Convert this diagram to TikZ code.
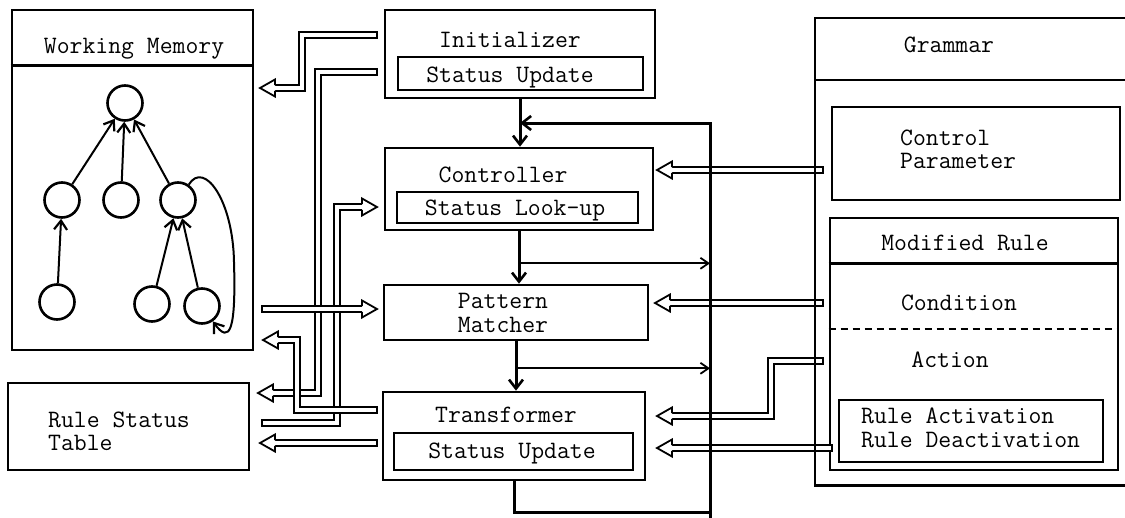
\documentclass[tikz,border=0pt]{standalone}
\usepackage{fontspec}
\usetikzlibrary{arrows.meta,fit,calc}
\newcommand\twfont{\ttfamily\addfontfeatures{FakeBold=0.6}\fontsize{25}{28}\selectfont}
% hollow (outlined) arrow head: #1 tip coordinate, #2 = 1 (points right) or -1 (points left)
\newcommand\hlhead[2]{%
  \begin{scope}[shift={#1},xscale=#2]
    \fill[white] (-15,-8.5) -- (0,0) -- (-15,8.5) -- cycle;
    \draw[line width=1.8pt,line join=miter] (-15,-2.9) -- (-15,-8.5) -- (0,0) -- (-15,8.5) -- (-15,2.9);
  \end{scope}}
% closed end of a horizontal hollow shaft
\newcommand\hlcap[1]{\draw[line width=2pt] ($#1+(0,-3.8)$) -- ($#1+(0,3.8)$);}
\begin{document}
\begin{tikzpicture}[x=1pt,y=-1pt,
  box/.style={draw,line width=2.6pt,inner sep=0pt},
  boxline/.style={line width=2.6pt},
  lbl/.style={font=\twfont,inner sep=0pt,anchor=base},
  lblw/.style={font=\twfont,inner sep=0pt,anchor=base west},
  circ/.style={circle,draw,line width=2.6pt,minimum size=35pt,inner sep=0pt},
  tarrow/.style={line width=2pt,-{Straight Barb[length=9pt,width=13pt,line width=2.2pt]}},
  flow/.style={line width=3pt,-{Straight Barb[length=9pt,width=14pt,line width=2.6pt]}},
  flowline/.style={line width=3pt},
  branch/.style={line width=1.8pt,-{Straight Barb[length=8pt,width=11pt,line width=1.8pt]}},
  hollow/.style={draw=black,double=white,double distance=4pt,line width=1.8pt,line join=miter},
]
\fill[white] (0,0) rectangle (1125,517);
\useasboundingbox (0,0) rectangle (1125,517);

% ---------- nodes (boxes) ----------
\node[box,fit={(12,10)(253,350)}] (wm) {};
\node[box,fit={(8,383)(249,470)}] (rst) {};
\node[box,fit={(385,10)(655,98)}] (init) {};
\node[box,fit={(398,57)(643,90)}] (initsu) {};
\node[box,fit={(385,148)(653,230)}] (ctrl) {};
\node[box,fit={(397,192)(638,223)}] (ctrlsl) {};
\node[box,fit={(384,285)(648,340)}] (pm) {};
\node[box,fit={(383,392)(645,480)}] (trans) {};
\node[box,fit={(394,433)(633,470)}] (transsu) {};
\node[box,fit={(832,107)(1120,200)}] (cp) {};
\node[box,fit={(830,218)(1118,470)}] (mr) {};
\node[box,fit={(839,400)(1103,462)}] (ra) {};
\node[inner sep=0pt,fit={(815,18)(1125,485)}] (gram) {};

% ---------- hollow arrows, left side ----------
% Initializer -> Working Memory
\coordinate (a1s) at (377,35); \coordinate (a1t) at (260,88);
\draw[hollow] (a1s) -- (302,35) -- (302,88) -- ($(a1t)+(15,0)$);
\hlcap{(a1s)} \hlhead{(a1t)}{-1}
% Initializer -> Rule Status Table
\coordinate (a2s) at (377,72); \coordinate (a2t) at (258,393);
\draw[hollow] (a2s) -- (318,72) -- (318,393) -- ($(a2t)+(15,0)$);
\hlcap{(a2s)} \hlhead{(a2t)}{-1}
% Rule Status Table -> Controller
\coordinate (a3s) at (262,423); \coordinate (a3t) at (377,207);
\draw[hollow] (a3s) -- (337,423) -- (337,207) -- ($(a3t)+(-15,0)$);
\hlcap{(a3s)} \hlhead{(a3t)}{1}
% Working Memory -> Pattern Matcher
\coordinate (a4s) at (262,309); \coordinate (a4t) at (377,309);
\draw[hollow] (a4s) -- ($(a4t)+(-15,0)$);
\hlcap{(a4s)} \hlhead{(a4t)}{1}
% Transformer -> Rule Status Table
\coordinate (a5s) at (377,443); \coordinate (a5t) at (260,443);
\draw[hollow] (a5s) -- ($(a5t)+(15,0)$);
\hlcap{(a5s)} \hlhead{(a5t)}{-1}
% Transformer -> Working Memory
\coordinate (a6s) at (377,410); \coordinate (a6t) at (263,340);
\draw[hollow] (a6s) -- (297,410) -- (297,340) -- ($(a6t)+(15,0)$);
\hlcap{(a6s)} \hlhead{(a6t)}{-1}

% ---------- hollow arrows, right side ----------
\coordinate (b1s) at (823,170); \coordinate (b1t) at (657,170);
\draw[hollow] (b1s) -- ($(b1t)+(15,0)$);
\hlcap{(b1s)} \hlhead{(b1t)}{-1}
\coordinate (b2s) at (823,303); \coordinate (b2t) at (655,303);
\draw[hollow] (b2s) -- ($(b2t)+(15,0)$);
\hlcap{(b2s)} \hlhead{(b2t)}{-1}
\coordinate (b3s) at (823,361); \coordinate (b3t) at (657,416);
\draw[hollow] (b3s) -- (771,361) -- (771,416) -- ($(b3t)+(15,0)$);
\hlcap{(b3s)} \hlhead{(b3t)}{-1}
\coordinate (b4s) at (832,448); \coordinate (b4t) at (657,448);
\draw[hollow] (b4s) -- ($(b4t)+(15,0)$);
\hlcap{(b4s)} \hlhead{(b4t)}{-1}

% ---------- box decorations ----------
\draw[boxline] ($(wm.north west)+(0,57)$) -- ($(wm.north east)+(0,57)$);
\draw[boxline] (gram.north east) -- (gram.north west) -- (gram.south west) -- (gram.south east);
\draw[boxline] ($(gram.north west)+(0,62)$) -- ($(gram.north east)+(0,62)$);
\draw[boxline] ($(mr.north west)+(0,47)$) -- ($(mr.north east)+(0,47)$);
\draw[line width=2pt,dash pattern=on 7pt off 5pt] ($(mr.north west)+(0,112)$) -- ($(mr.north east)+(0,112)$);

% ---------- control flow ----------
\coordinate (lp) at (710,123);
\coordinate (lpb) at (710,512);
\draw[flow] (init.south) -- (init.south |- ctrl.north);
\draw[flow] (ctrl.south) -- (ctrl.south |- pm.north);
\draw[flow] (pm.south) -- (pm.south |- trans.north);
\draw[flow] (trans.south) |- (lpb) -- (lp) -- (lp -| init.south);
\draw[flowline] (lpb) -- ++(0,6);
\coordinate (br1) at ($(ctrl.south)+(0,32)$);
\coordinate (br2) at ($(pm.south)+(0,27)$);
\draw[branch] (br1) -- (br1 -| lp);
\draw[branch] (br2) -- (br2 -| lp);

% ---------- working memory tree ----------
\node[circ] (c0) at (125,103) {};
\node[circ] (c1) at (62,200) {};
\node[circ] (c2) at (121,200) {};
\node[circ] (c3) at (178,200) {};
\node[circ] (c4) at (57,302) {};
\node[circ] (c5) at (152,304) {};
\node[circ] (c6) at (202,306) {};
\draw[tarrow] (c1) -- (c0);
\draw[tarrow] (c2) -- (c0);
\draw[tarrow] (c3) -- (c0);
\draw[tarrow] (c4) -- (c1);
\draw[tarrow] (c5) -- (c3);
\draw[tarrow] (c6) -- (c3);
\draw[tarrow] (c3.55) .. controls (204,160) and (233,200) .. (234,262) .. controls (236,330) and (230,345) .. (c6.-55);

% ---------- labels ----------
\node[lbl] (wmT) at (134,53) {Working Memory};
\node[lbl] (initT) at (510,47) {Initializer};
\node[lbl] (initS) at (510,82) {Status Update};
\node[lbl] (ctrlT) at (503,182) {Controller};
\node[lbl] (ctrlS) at (515,215) {Status Look-up};
\node[lbl] (pmT1) at (503,308) {Pattern};
\node[lbl] (pmT2) at (503,332) {Matcher};
\node[lbl] (trT) at (506,422) {Transformer};
\node[lbl] (trS) at (512,458) {Status Update};
\node[lblw] (rst1) at (48,427) {Rule Status};
\node[lblw] (rst2) at (48,450) {Table};
\node[lbl] (gT) at (949,52) {Grammar};
\node[lblw] (cp1) at (900,145) {Control};
\node[lblw] (cp2) at (900,168) {Parameter};
\node[lbl] (mrT) at (965,250) {Modified Rule};
\node[lbl] (cond) at (959,310) {Condition};
\node[lbl] (act) at (950,367) {Action};
\node[lblw] (ra1) at (861,423) {Rule Activation};
\node[lblw] (ra2) at (861,447) {Rule Deactivation};
\end{tikzpicture}
\end{document}
